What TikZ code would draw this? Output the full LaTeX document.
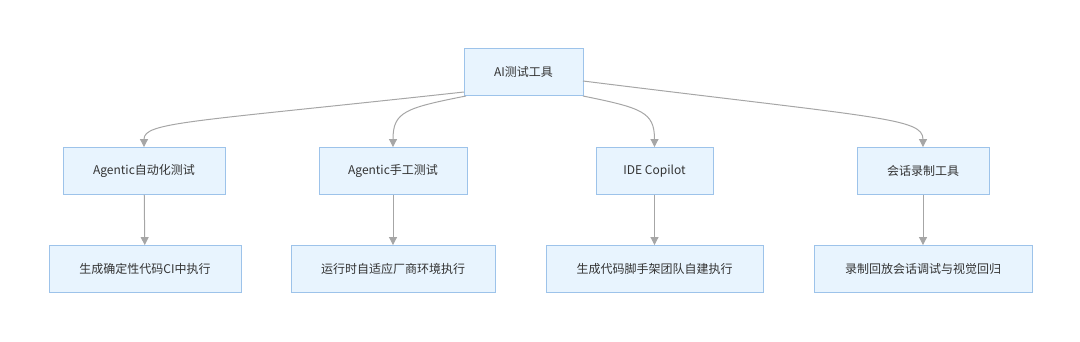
\documentclass[tikz,border=0pt]{standalone}
\usepackage{fontspec}
\setmainfont{Noto Sans CJK SC}
\usetikzlibrary{arrows.meta}
\definecolor{boxfill}{HTML}{E8F4FE}
\definecolor{boxdraw}{HTML}{9DC3EA}
\definecolor{edge}{HTML}{A6A6A6}
\definecolor{txt}{HTML}{333333}
\begin{document}
\begin{tikzpicture}[x=1pt,y=-1pt,
  box/.style={draw=boxdraw,fill=boxfill,line width=0.9pt,minimum height=47pt,inner sep=0pt,text=txt,font=\fontsize{12}{14}\selectfont},
  conn/.style={draw=edge,line width=1pt,-{Triangle[length=8pt,width=8pt]}}]
\useasboundingbox (0,0) rectangle (1080,342);
\node[box,minimum width=119pt] (root) at (523.5,72) {AI测试工具};
\node[box,minimum width=162pt] (a1) at (144,171) {Agentic自动化测试};
\node[box,minimum width=148pt] (a2) at (393,171) {Agentic手工测试};
\node[box,minimum width=117pt] (a3) at (654.5,171) {IDE Copilot};
\node[box,minimum width=132pt] (a4) at (923,171) {会话录制工具};
\node[box,minimum width=192pt] (b1) at (145,269) {生成确定性代码CI中执行};
\node[box,minimum width=204pt] (b2) at (393,269) {运行时自适应厂商环境执行};
\node[box,minimum width=217pt] (b3) at (654.5,269) {生成代码脚手架团队自建执行};
\node[box,minimum width=218pt] (b4) at (923,269) {录制回放会话调试与视觉回归};
\coordinate (r1) at (464,92);
\coordinate (r2) at (466,96);
\coordinate (r3) at (583,96);
\coordinate (r4) at (583,81);
\draw[conn] (r1) .. controls (190,122) and (144,122) .. (a1.north);
\draw[conn] (r2) .. controls (405,108) and (393,112) .. (a2.north);
\draw[conn] (r3) .. controls (642,108) and (654.5,112) .. (a3.north);
\draw[conn] (r4) .. controls (880,118) and (923,118) .. (a4.north);
\draw[conn] (a1) -- (b1);
\draw[conn] (a2) -- (b2);
\draw[conn] (a3) -- (b3);
\draw[conn] (a4) -- (b4);
\end{tikzpicture}
\end{document}
